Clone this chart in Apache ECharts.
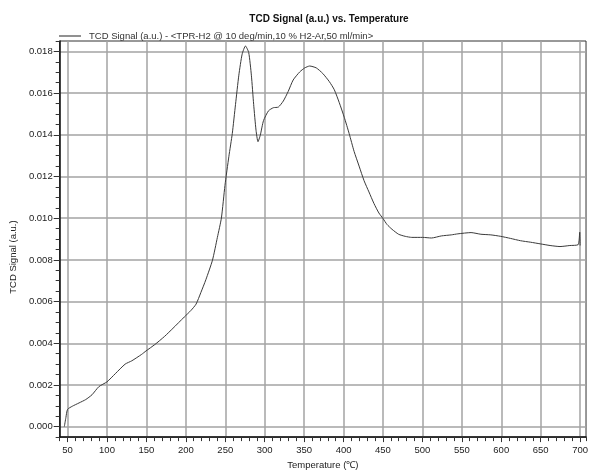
<!DOCTYPE html>
<html>
<head>
<meta charset="utf-8">
<script src="https://cdn.jsdelivr.net/npm/echarts@6/dist/echarts.min.js"></script>
<style>html,body{margin:0;padding:0;background:#fff;}#c{width:591px;height:475px;}</style>
</head>
<body>
<div id="c"></div>
<script>
const titleText = 'TCD Signal (a.u.) vs. Temperature';
const seriesName = 'TCD Signal (a.u.) - <TPR-H2 @ 10 deg/min,10 % H2-Ar,50 ml/min>';
const xName = 'Temperature (℃)';
const yName = 'TCD Signal (a.u.)';
const xTicks = [50,100,150,200,250,300,350,400,450,500,550,600,650,700];
const yTicks = [0,0.002,0.004,0.006,0.008,0.010,0.012,0.014,0.016,0.018];
const temps = [45.9,47.9,50,56,64.6,73,81,89.7,100,110.5,123,131.5,144,149.4,160.7,173,183.7,198,206.6,213,219,225.4,233.8,240,245.1,249.6,254.6,258.9,263,267.2,271.4,275.6,279.7,283.1,286,289,291.5,294.4,298.5,304.8,311,317.3,323.6,329.8,336.1,344.5,350.8,357,365.4,373.7,382,388.3,394.6,400.9,407.1,413.4,419.7,426,432.2,438.5,444.8,450.1,455.1,461.4,469.8,478.2,486.5,500.3,511.5,524,536.6,545,561.7,574.2,586.8,599.3,611.8,624.4,636.9,649.4,661.9,674.5,687,697.5,699.5,700];
const signal = [0,0.00044,0.00083,0.00098,0.00114,0.0013,0.00153,0.00192,0.00215,0.00254,0.003,0.00316,0.00347,0.00363,0.00394,0.00433,0.00472,0.00526,0.00558,0.00588,0.00643,0.00705,0.00799,0.00908,0.01001,0.01157,0.01297,0.01406,0.01546,0.01686,0.01787,0.01826,0.01795,0.01686,0.01546,0.01422,0.01367,0.01398,0.01468,0.01515,0.0153,0.01533,0.01562,0.01608,0.01663,0.01702,0.01721,0.0173,0.01721,0.01694,0.01655,0.01616,0.01554,0.01484,0.01406,0.0132,0.0125,0.0118,0.01126,0.01071,0.01025,0.00998,0.0097,0.00947,0.00923,0.00913,0.00908,0.00908,0.00905,0.00915,0.0092,0.00925,0.00931,0.00923,0.0092,0.00913,0.00903,0.00892,0.00885,0.00877,0.00869,0.00864,0.00869,0.00873,0.00933,0.00869];

const XMIN = 40, XMAX = 707.5, YMIN = -0.0005, YMAX = 0.0185;
const font = 'Liberation Sans, Arial, sans-serif';
const gridColor = '#a3a3a3';

const chart = echarts.init(document.getElementById('c'), null, {renderer: 'canvas'});
chart.setOption({
  animation: false,
  backgroundColor: '#fff',
  title: {
    text: titleText, left: 324, top: 9, textAlign: 'center',
    textStyle: {fontFamily: font, fontSize: 10, fontWeight: 'bold', color: '#111'}
  },
  legend: {
    left: 54, top: 26, itemWidth: 22, itemHeight: 1, itemGap: 0, icon: 'rect',
    data: [seriesName],
    itemStyle: {color: '#222'},
    textStyle: {fontFamily: font, fontSize: 9.5, color: '#333', padding: [0, 0, 0, 3]},
    selectedMode: false
  },
  grid: {left: 56, right: 1, top: 41, bottom: 26, show: true, borderColor: '#333', borderWidth: 1, containLabel: false},
  xAxis: [
    {
      type: 'value', min: XMIN, max: XMAX, interval: 10, position: 'bottom',
      axisLine: {show: true, onZero: false, lineStyle: {color: '#111', width: 1.5}},
      axisTick: {show: true, length: 4, lineStyle: {color: '#333'}},
      axisLabel: {show: false}, splitLine: {show: false}
    },
    {
      type: 'value', min: XMIN, max: XMAX, position: 'bottom',
      name: xName, nameLocation: 'middle', nameGap: 21,
      nameTextStyle: {fontFamily: font, fontSize: 9.5, color: '#222'},
      axisLine: {show: false, onZero: false},
      axisTick: {show: true, customValues: xTicks, length: 5, lineStyle: {color: '#333'}},
      axisLabel: {show: true, customValues: xTicks, margin: 8, fontFamily: font, fontSize: 9.5, color: '#222'},
      splitLine: {show: true, lineStyle: {color: gridColor, width: 1.5}}
    }
  ],
  yAxis: [
    {
      type: 'value', min: YMIN, max: YMAX, interval: 0.0005, position: 'left',
      axisLine: {show: true, onZero: false, lineStyle: {color: '#111', width: 1.5}},
      axisTick: {show: true, length: 4, lineStyle: {color: '#333'}},
      axisLabel: {show: false}, splitLine: {show: false}
    },
    {
      type: 'value', min: YMIN, max: YMAX, position: 'left',
      name: yName, nameLocation: 'middle', nameGap: 40, nameRotate: 90,
      nameTextStyle: {fontFamily: font, fontSize: 9.5, color: '#222', padding: [0, 36, 0, 0]},
      axisLine: {show: false, onZero: false},
      axisTick: {show: true, customValues: yTicks, length: 6, lineStyle: {color: '#333'}},
      axisLabel: {show: true, customValues: yTicks, margin: 7, fontFamily: font, fontSize: 9.5, color: '#222',
        formatter: v => v.toFixed(3)},
      splitLine: {show: true, lineStyle: {color: gridColor, width: 1.5}}
    }
  ],
  series: [{
    name: seriesName, type: 'line', xAxisIndex: 0, yAxisIndex: 0,
    data: temps.map((t, i) => [t, signal[i]]),
    showSymbol: false, symbol: 'none', smooth: 0.2,
    lineStyle: {color: '#3a3a3a', width: 1}, itemStyle: {color: '#3a3a3a'},
    z: 5
  }]
});
</script>
</body>
</html>
